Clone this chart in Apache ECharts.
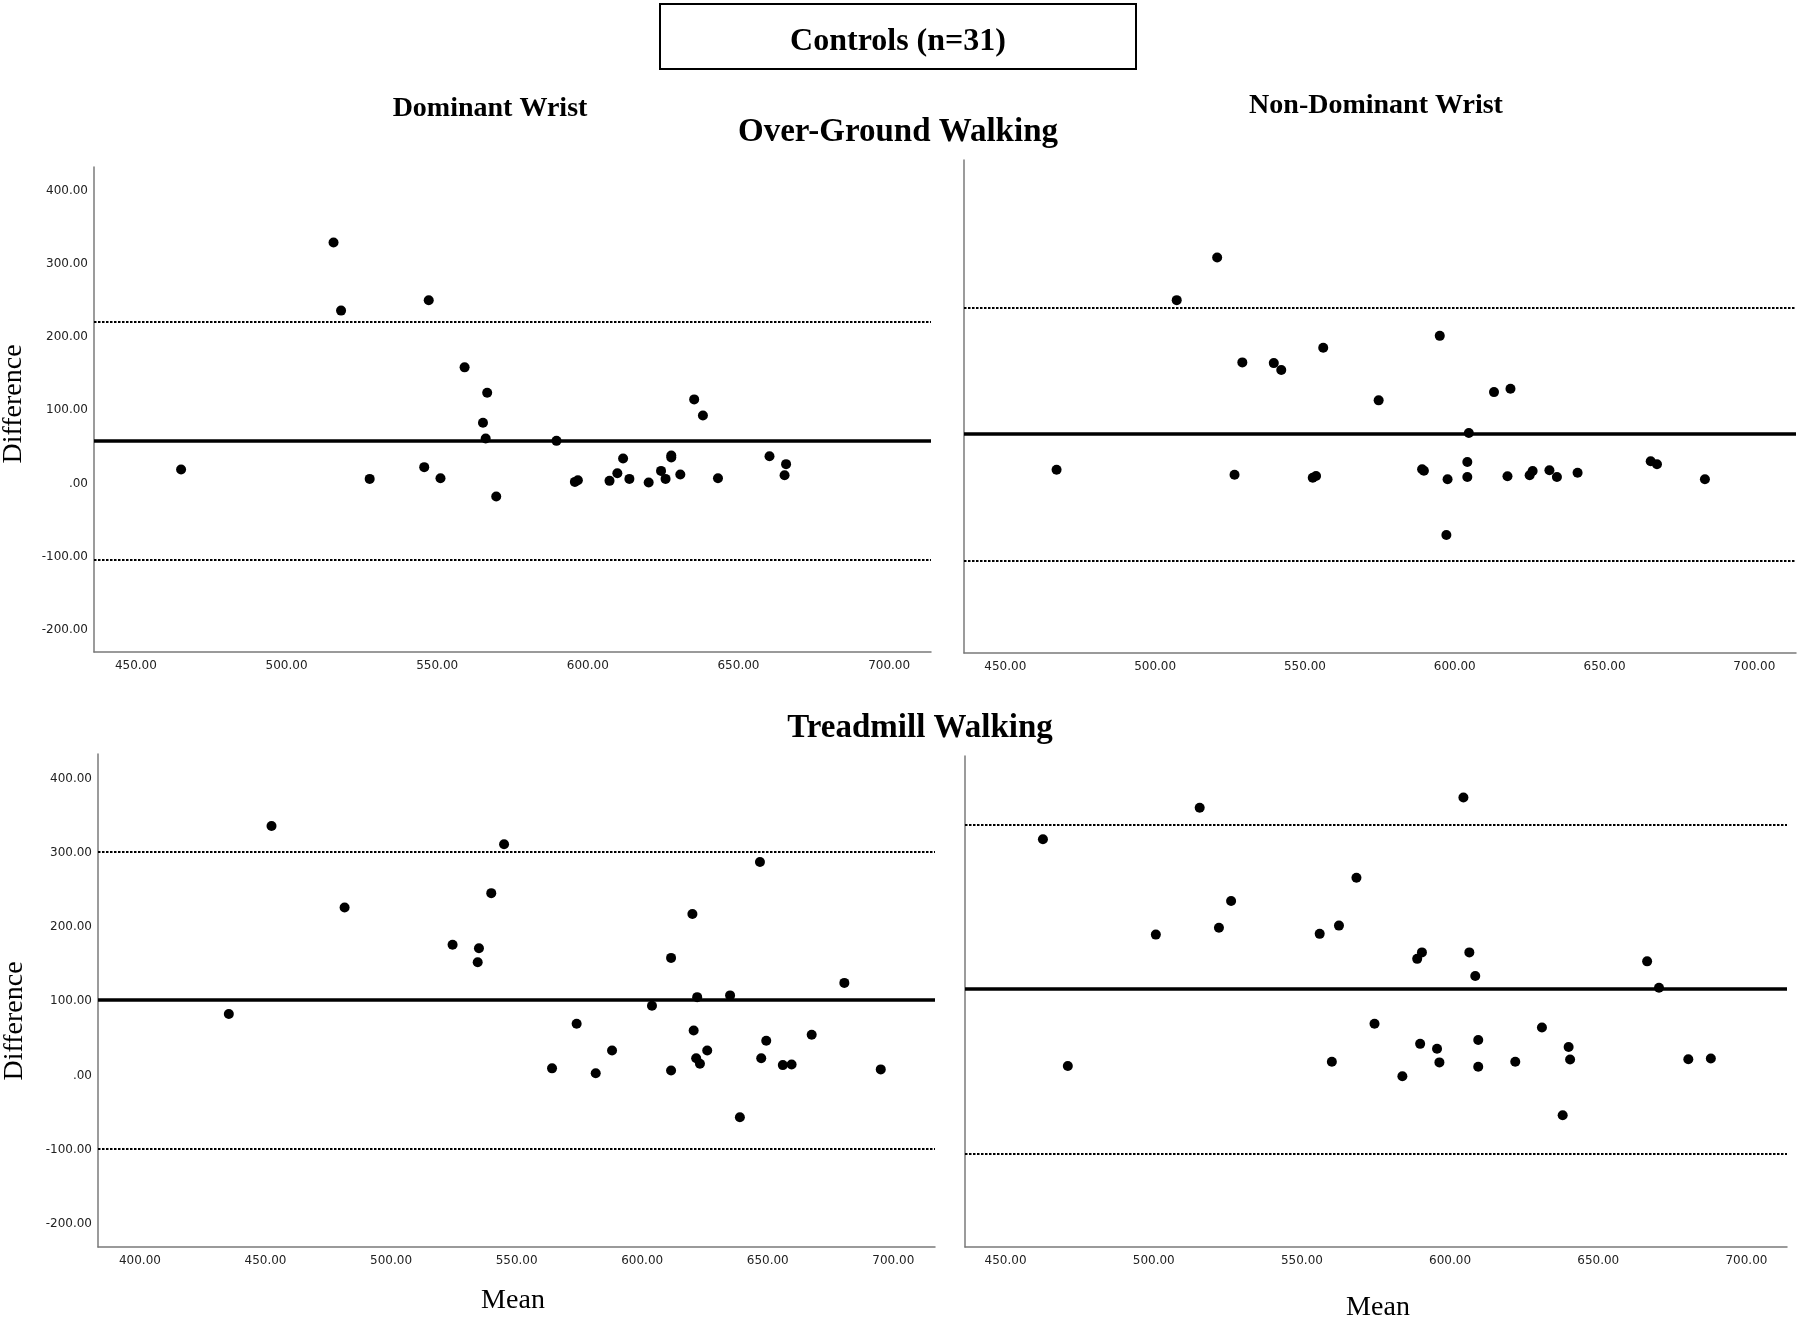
<!DOCTYPE html>
<html>
<head>
<meta charset="utf-8">
<script src="https://cdn.jsdelivr.net/npm/echarts@6/dist/echarts.min.js"></script>
<style>
  html, body { margin: 0; padding: 0; background: #fff; }
  #chart { width: 1800px; height: 1319px; }
</style>
</head>
<body>
<div id="chart"></div>
<script>
// ---------- DATA ----------
// Over-Ground Walking, Dominant Wrist
const ogDomMean = [465.0, 515.6, 518.1, 527.6, 545.7, 547.2, 551.1, 559.1, 565.2, 566.1, 566.6, 569.6, 589.6, 595.7, 596.7, 607.2, 609.8, 611.7, 613.8, 620.2, 624.3, 625.8, 627.7, 627.7, 630.7, 635.3, 638.2, 643.2, 660.3, 665.3, 665.8];
const ogDomDiff = [19.1, 329.0, 236.0, 6.3, 22.3, 250.0, 7.2, 158.5, 82.8, 61.5, 123.8, -17.8, 58.2, 2.2, 4.5, 3.6, 14.1, 34.2, 6.3, 1.4, 17.2, 6.3, 38.3, 35.5, 12.3, 114.8, 92.9, 7.2, 37.3, 11.3, 26.4];
const ogDomLines = [58.2, 220.8, -104.4]; // bias, upper LoA, lower LoA

// Over-Ground Walking, Non-Dominant Wrist
const ogNonMean = [467.1, 507.2, 520.7, 526.5, 529.1, 539.6, 542.1, 552.6, 553.7, 556.1, 574.6, 589.1, 589.7, 595.0, 597.2, 597.6, 604.2, 604.2, 604.7, 613.1, 617.6, 618.6, 625.0, 626.0, 631.6, 634.1, 641.0, 665.4, 667.5, 683.5];
const ogNonDiff = [18.6, 250.4, 308.7, 11.7, 165.3, 164.3, 154.8, 7.7, 10.0, 185.2, 113.4, 19.1, 17.2, 201.6, -70.6, 5.5, 29.1, 8.6, 68.7, 124.7, 9.6, 129.2, 10.9, 16.8, 17.8, 8.6, 14.5, 30.1, 26.0, 5.5];
const ogNonLines = [67.3, 239.6, -105.2];

// Treadmill Walking, Dominant Wrist
const tmDomMean = [435.4, 452.4, 481.5, 524.5, 534.5, 535.0, 539.9, 545.0, 564.1, 573.9, 581.5, 588.0, 603.9, 611.5, 611.5, 620.0, 620.5, 621.5, 621.9, 623.0, 625.9, 635.0, 638.9, 646.9, 647.4, 649.4, 656.0, 659.5, 667.5, 680.5, 695.0];
const tmDomDiff = [82.8, 336.1, 226.3, 176.2, 152.6, 171.4, 245.6, 311.5, 9.6, 69.8, 2.9, 33.7, 93.9, 158.4, 6.7, 217.6, 60.7, 23.1, 105.5, 15.9, 33.7, 107.9, -56.3, 287.5, 23.1, 46.7, 14.0, 14.9, 54.9, 124.7, 8.2];
const tmDomLines = [102.1, 301.9, -98.2];

// Treadmill Walking, Non-Dominant Wrist
const tmNonMean = [462.6, 471.0, 500.7, 515.5, 522.0, 526.1, 556.0, 560.1, 562.5, 568.4, 574.5, 583.9, 588.9, 589.9, 590.5, 595.6, 596.4, 604.5, 606.5, 608.5, 609.5, 609.5, 622.0, 631.0, 638.0, 640.0, 640.5, 666.5, 670.5, 680.4, 688.0];
const tmNonDiff = [317.8, 12.0, 189.2, 360.2, 198.4, 234.5, 190.2, 17.8, 201.3, 265.8, 68.9, -1.9, 156.5, 41.9, 165.2, 35.2, 16.9, 374.1, 165.2, 133.4, 47.2, 11.1, 17.8, 64.0, -54.4, 37.6, 20.7, 153.1, 117.5, 21.2, 22.1];
const tmNonLines = [116.5, 337.5, -106.4];

// Tick labels
const xTicksA = [450, 500, 550, 600, 650, 700];
const xTicksB = [400, 450, 500, 550, 600, 650, 700];
const yTicks = [-200, -100, 0, 100, 200, 300, 400];

// Texts
const mainTitle = 'Controls (n=31)';
const colTitles = ['Dominant Wrist', 'Non-Dominant Wrist'];
const rowTitles = ['Over-Ground Walking', 'Treadmill Walking'];
const yName = 'Difference';
const xName = 'Mean';

// ---------- CHART ----------
const chart = echarts.init(document.getElementById('chart'), null, { renderer: 'canvas' });

const fmt = v => (v === 0 ? '.00' : v.toFixed(2));
const labelFont = { color: '#222', fontFamily: 'DejaVu Sans', fontSize: 12 };
const axisLineStyle = { show: true, onZero: false, lineStyle: { color: '#7a7a7a', width: 1.5 } };

function zip(a, b) { return a.map((v, i) => [v, b[i]]); }

function xAxisCfg(idx, min, max, ticks) {
  return {
    type: 'value', gridIndex: idx, min: min, max: max,
    axisLine: axisLineStyle, axisTick: { show: false }, splitLine: { show: false },
    axisLabel: Object.assign({ customValues: ticks, formatter: fmt, margin: 8 }, labelFont)
  };
}
function yAxisCfg(idx, min, max, showLabels) {
  return {
    type: 'value', gridIndex: idx, min: min, max: max,
    axisLine: axisLineStyle, axisTick: { show: false }, splitLine: { show: false },
    axisLabel: Object.assign({ show: showLabels, customValues: yTicks, formatter: fmt, margin: 6 }, labelFont)
  };
}
function seriesCfg(idx, means, diffs, lines) {
  return {
    type: 'scatter', xAxisIndex: idx, yAxisIndex: idx,
    data: zip(means, diffs), symbol: 'circle', symbolSize: 10,
    itemStyle: { color: '#000', opacity: 1 }, silent: true, z: 3,
    markLine: {
      silent: true, symbol: 'none', label: { show: false }, animation: false,
      data: [
        { yAxis: lines[0], lineStyle: { color: '#000', width: 3.5, type: 'solid' } },
        { yAxis: lines[1], lineStyle: { color: '#000', width: 2.2, type: [2.5, 1.5] } },
        { yAxis: lines[2], lineStyle: { color: '#000', width: 2.2, type: [2.5, 1.5] } }
      ]
    }
  };
}

const option = {
  backgroundColor: '#fff',
  animation: false,
  grid: [
    { left: 94, top: 167, width: 837, height: 485 },
    { left: 964, top: 160, width: 832, height: 493 },
    { left: 98, top: 754, width: 837, height: 493 },
    { left: 965, top: 756, width: 822, height: 491 }
  ],
  xAxis: [
    xAxisCfg(0, 436.1, 713.9, xTicksA),
    xAxisCfg(1, 436.2, 713.9, xTicksA),
    xAxisCfg(2, 383.3, 716.6, xTicksB),
    xAxisCfg(3, 436.3, 713.7, xTicksA)
  ],
  yAxis: [
    yAxisCfg(0, -230, 432, true),
    yAxisCfg(1, -232, 442, false),
    yAxisCfg(2, -231, 433, true),
    yAxisCfg(3, -232, 430, false)
  ],
  series: [
    seriesCfg(0, ogDomMean, ogDomDiff, ogDomLines),
    seriesCfg(1, ogNonMean, ogNonDiff, ogNonLines),
    seriesCfg(2, tmDomMean, tmDomDiff, tmDomLines),
    seriesCfg(3, tmNonMean, tmNonDiff, tmNonLines)
  ],
  graphic: [
    { type: 'rect', shape: { x: 660, y: 4, width: 476, height: 65 },
      style: { fill: '#fff', stroke: '#000', lineWidth: 2 } },
    { type: 'text', x: 898, y: 42,
      style: { text: mainTitle, textAlign: 'center', textVerticalAlign: 'middle', font: 'bold 32px "Liberation Serif"', fill: '#000' } },
    { type: 'text', x: 490, y: 109,
      style: { text: colTitles[0], textAlign: 'center', textVerticalAlign: 'middle', font: 'bold 28px "Liberation Serif"', fill: '#000' } },
    { type: 'text', x: 1376, y: 106,
      style: { text: colTitles[1], textAlign: 'center', textVerticalAlign: 'middle', font: 'bold 28px "Liberation Serif"', fill: '#000' } },
    { type: 'text', x: 898, y: 132,
      style: { text: rowTitles[0], textAlign: 'center', textVerticalAlign: 'middle', font: 'bold 33px "Liberation Serif"', fill: '#000' } },
    { type: 'text', x: 920, y: 728,
      style: { text: rowTitles[1], textAlign: 'center', textVerticalAlign: 'middle', font: 'bold 33px "Liberation Serif"', fill: '#000' } },
    { type: 'text', x: 14, y: 404, rotation: Math.PI / 2,
      style: { text: yName, textAlign: 'center', textVerticalAlign: 'middle', font: '28px "Liberation Serif"', fill: '#000' } },
    { type: 'text', x: 15, y: 1021, rotation: Math.PI / 2,
      style: { text: yName, textAlign: 'center', textVerticalAlign: 'middle', font: '28px "Liberation Serif"', fill: '#000' } },
    { type: 'text', x: 513, y: 1301,
      style: { text: xName, textAlign: 'center', textVerticalAlign: 'middle', font: '28px "Liberation Serif"', fill: '#000' } },
    { type: 'text', x: 1378, y: 1308,
      style: { text: xName, textAlign: 'center', textVerticalAlign: 'middle', font: '28px "Liberation Serif"', fill: '#000' } }
  ]
};

chart.setOption(option);
</script>
</body>
</html>
